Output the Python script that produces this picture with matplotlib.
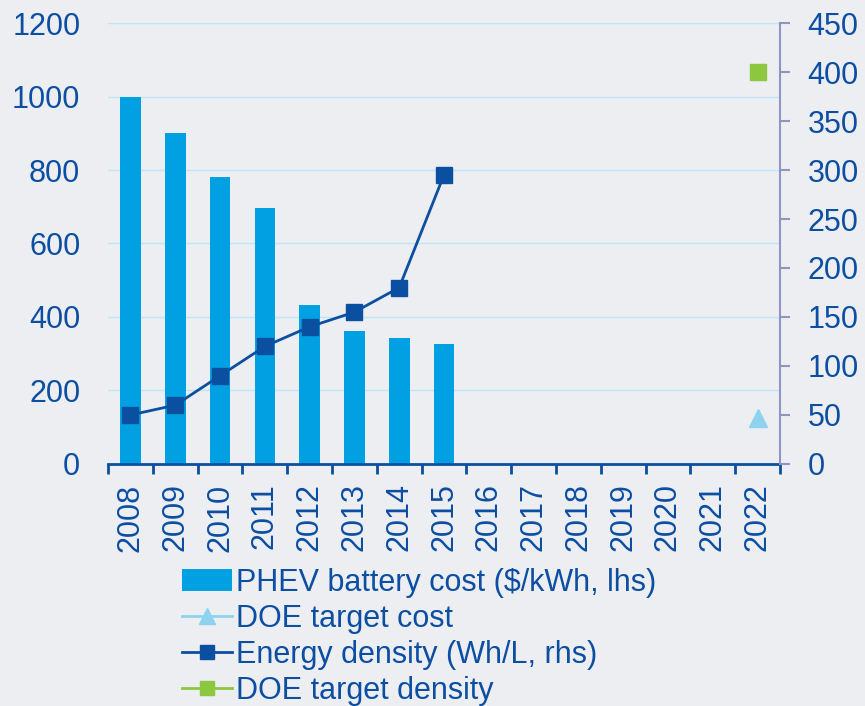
import numpy as np
import matplotlib
matplotlib.use('Agg')
import matplotlib.pyplot as plt
from matplotlib.lines import Line2D
from matplotlib.patches import Patch

plt.rcParams['font.family'] = ['Liberation Sans', 'DejaVu Sans']

# data
years = ['2008', '2009', '2010', '2011', '2012', '2013', '2014', '2015',
         '2016', '2017', '2018', '2019', '2020', '2021', '2022']
battery_cost = [1000, 900, 782, 697, 432, 362, 342, 327]          # $/kWh, lhs
energy_density = [50, 60, 90, 120, 140, 155, 180, 295]            # Wh/L, rhs
doe_cost_year = ['2022']
doe_cost = [125]                                                   # lhs
doe_density_year = ['2022']
doe_density = [400]                                                # rhs

bg = '#ECEEF1'
txt = '#0B4EA2'
bar_c = '#00A0E3'
dens_c = '#0B4FA0'
green = '#8DC63F'
tri_c = '#8DD3F0'
grid_c = '#BDE6F7'

fig = plt.figure(figsize=(8.65, 7.06), dpi=100, facecolor=bg)
ax = fig.add_axes([0.1249, 0.3428, 0.7768, 0.6246], facecolor=bg)
ax2 = ax.twinx()

x = np.arange(len(years))
pos = {y: i for i, y in enumerate(years)}

ax.bar(x[:len(battery_cost)], battery_cost, width=0.46, color=bar_c, zorder=2)
ax.plot([pos[y] for y in doe_cost_year], doe_cost, marker='^', ms=13,
        color=tri_c, ls='none', zorder=3)
ax2.plot(x[:len(energy_density)], energy_density, color=dens_c, lw=2,
         marker='s', ms=12, zorder=4)
ax2.plot([pos[y] for y in doe_density_year], doe_density, marker='s', ms=12,
         color=green, ls='none', zorder=4)

ax.set_xlim(-0.5, len(years) - 0.5)
ax.set_ylim(0, 1200)
ax2.set_ylim(0, 450)
ax.set_yticks(np.arange(0, 1201, 200))
ax2.set_yticks(np.arange(0, 451, 50))
for v in range(200, 1201, 200):
    ax.axhline(v, color=grid_c, lw=1, zorder=1)

ax.set_xticks(x)
ax.set_xticklabels(years, rotation=90, fontsize=22, color=txt)
ax.set_xticks(np.arange(-0.5, len(years), 1), minor=True)
ax.tick_params(axis='x', which='major', length=0, pad=14)
ax.tick_params(axis='x', which='minor', length=7, width=2, color=dens_c, direction='out')
ax.tick_params(axis='y', length=0, pad=20, labelsize=22, labelcolor=txt)
ax2.tick_params(axis='y', length=7, width=1.5, color='#8C96C0', pad=13,
                labelsize=22, labelcolor=txt)

for a in (ax, ax2):
    for s in ('top', 'left'):
        a.spines[s].set_visible(False)
ax.spines['right'].set_visible(False)
ax2.spines['bottom'].set_visible(False)
ax.spines['bottom'].set_color(dens_c)
ax.spines['bottom'].set_linewidth(2)
ax2.spines['right'].set_color('#8C96C0')
ax2.spines['right'].set_linewidth(1.5)

handles = [
    Patch(facecolor=bar_c, edgecolor='none'),
    Line2D([], [], color=tri_c, lw=2, marker='^', ms=11),
    Line2D([], [], color=dens_c, lw=2, marker='s', ms=10),
    Line2D([], [], color=green, lw=2, marker='s', ms=10),
]
labels = ['PHEV battery cost ($/kWh, lhs)', 'DOE target cost',
          'Energy density (Wh/L, rhs)', 'DOE target density']
leg = fig.legend(handles, labels, loc='upper left', bbox_to_anchor=(0.2105, 0.196),
                 frameon=False, fontsize=22, handlelength=1.65, handletextpad=0.1,
                 labelspacing=0.2, borderaxespad=0, borderpad=0)
for t in leg.get_texts():
    t.set_color(txt)

fig.savefig('out.png', dpi=100, facecolor=bg)
